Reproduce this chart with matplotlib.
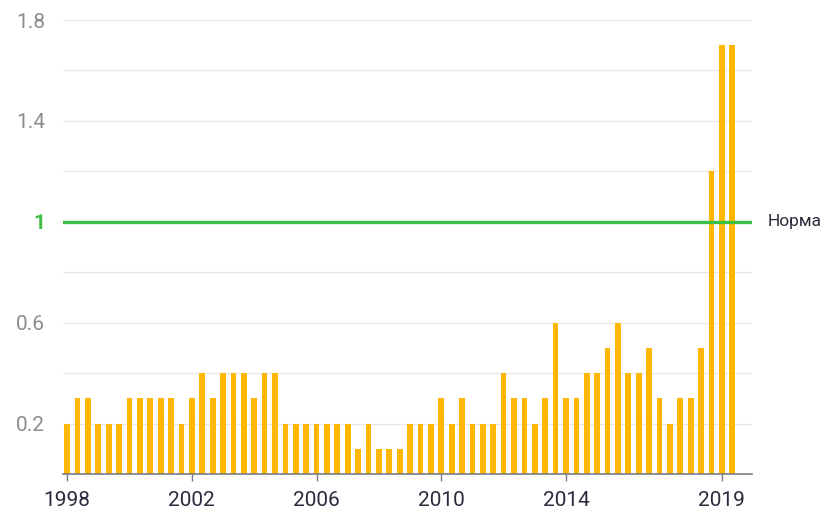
import matplotlib
matplotlib.use("Agg")
import matplotlib.pyplot as plt
import numpy as np

# значения по периодам (3 точки в год), 1998 - 2019
values = [0.2, 0.3, 0.3, 0.2, 0.2, 0.2, 0.3, 0.3, 0.3, 0.3, 0.3, 0.2, 0.3, 0.4, 0.3, 0.4, 0.4, 0.4, 0.3, 0.4, 0.4,
          0.2, 0.2, 0.2, 0.2, 0.2, 0.2, 0.2, 0.1, 0.2, 0.1, 0.1, 0.1, 0.2, 0.2, 0.2, 0.3, 0.2, 0.3, 0.2, 0.2, 0.2, 0.4, 0.3,
          0.3, 0.2, 0.3, 0.6, 0.3, 0.3, 0.4, 0.4, 0.5, 0.6, 0.4, 0.4, 0.5, 0.3, 0.2, 0.3, 0.3, 0.5, 1.2, 1.7, 1.7]
year_ticks = [0, 12, 24, 36, 48, 63]
year_labels = ['1998', '2002', '2006', '2010', '2014', '2019']
y_ticks = [0.2, 0.6, 1.0, 1.4, 1.8]
y_labels = ['0.2', '0.6', '1', '1.4', '1.8']
norm = 1.0

plt.rcParams['font.family'] = ['Roboto', 'DejaVu Sans']

fig = plt.figure(figsize=(8.31, 5.15), dpi=100)
ax = fig.add_axes([63 / 831, 41 / 515, (752 - 63) / 831, (474 - 20) / 515])

x = np.arange(len(values))
for g in np.arange(0.2, 1.81, 0.2):
    ax.axhline(g, color='#e8e8e8', lw=1, zorder=0)
ax.bar(x, values, width=0.55, color='#FFB703', zorder=2)
ax.axhline(norm, color='#3EBE45', lw=2.4, zorder=3)
ax.text(65.9 + 1.5, norm, 'Норма', va='center', ha='left', fontsize=12.5, color='#2b2b3d')

ax.set_xlim(-0.4, 65.9)
ax.set_ylim(0, 1.8)

for s in ['top', 'right', 'left']:
    ax.spines[s].set_visible(False)
ax.spines['bottom'].set_color('#7a7a85')
ax.spines['bottom'].set_linewidth(1.2)
ax.spines['bottom'].set_zorder(4)

ax.set_xticks(year_ticks)
ax.set_xticklabels(year_labels, fontsize=15, color='#2b2b3d')
ax.tick_params(axis='x', length=5, width=1, color='#7a7a85', pad=7)

ax.set_yticks(y_ticks)
ax.set_yticklabels(y_labels, fontsize=15, color='#8c8c8c')
ax.tick_params(axis='y', length=0, pad=13)
for lbl in ax.get_yticklabels():
    if lbl.get_text() == '1':
        lbl.set_color('#3EBE45')
        lbl.set_fontweight('bold')

fig.savefig('out.png', dpi=100)
